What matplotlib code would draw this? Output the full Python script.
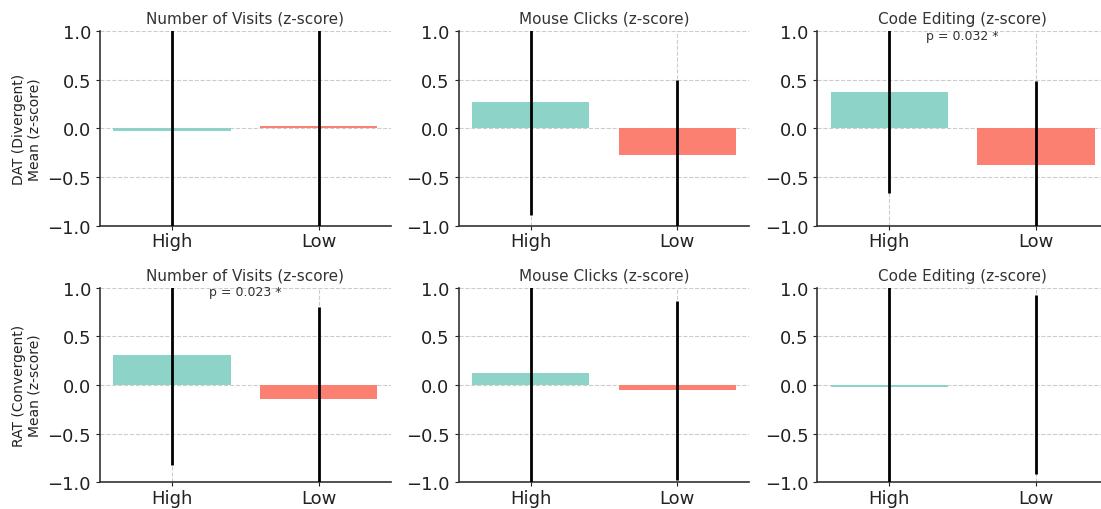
import numpy as np
import matplotlib
matplotlib.use('Agg')
from matplotlib import pyplot as plt

###group labels and panel titles
groups=['High','Low']
metrics=['Number of Visits (z-score)','Mouse Clicks (z-score)','Code Editing (z-score)']
tests=['DAT (Divergent)\nMean (z-score)','RAT (Convergent)\nMean (z-score)']

###mean z-scores (High, Low) per metric, rows = DAT / RAT
dat_means=[[-0.025,0.025],[0.276,-0.276],[0.379,-0.38]]
dat_err=[[1.3,1.3],[1.17,0.776],[1.04,0.87]]
rat_means=[[0.306,-0.147],[0.12,-0.055],[-0.015,0.005]]
rat_err=[[1.13,0.95],[1.3,0.925],[1.25,0.92]]

###p-value notes, (row, col) -> text
pvals={(0,2):'p = 0.032 *',(1,0):'p = 0.023 *'}

colorID=['#8dd3c7','#fb8072']

plt.rcParams['font.family']='DejaVu Sans'
fig,ax=plt.subplots(2,3,figsize=(11.01,5.10),dpi=100)
plt.subplots_adjust(left=0.0908,right=1.0064,top=0.9367,bottom=0.0524,wspace=0.2337,hspace=0.32)

means=[dat_means,rat_means]
errs=[dat_err,rat_err]
for row in range(0,2):
	for col in range(0,3):
		ax1=ax[row][col]
		x=np.arange(len(groups))
		ax1.bar(x,means[row][col],width=0.8,color=colorID,zorder=2)
		ax1.errorbar(x,means[row][col],yerr=errs[row][col],fmt='none',ecolor='black',elinewidth=2,capsize=0,zorder=3)
		ax1.set_ylim(-1,1)
		ax1.set_xlim(-0.49,1.49)
		ax1.set_xticks(x)
		ax1.set_xticklabels(groups)
		ax1.set_yticks([-1,-0.5,0,0.5,1])
		ax1.tick_params(labelsize=13,colors='#222222',length=3)
		ax1.tick_params(axis='x',pad=1.5)
		ax1.grid(True,linestyle='--',color='#cccccc',linewidth=0.8,zorder=0)
		ax1.set_axisbelow(True)
		for s in ['top','right']:
			ax1.spines[s].set_visible(False)
		for s in ['left','bottom']:
			ax1.spines[s].set_color('#333333')
			ax1.spines[s].set_linewidth(1.2)
		ax1.set_title(metrics[col],fontsize=11,color='#333333')
		if col==0:
			ax1.set_ylabel(tests[row],fontsize=10,color='#222222')
		if (row,col) in pvals:
			ax1.text(0.5,0.96,pvals[(row,col)],ha='center',va='center',fontsize=9,color='#333333',zorder=4)

plt.savefig('out.png',dpi=100)
plt.close()
